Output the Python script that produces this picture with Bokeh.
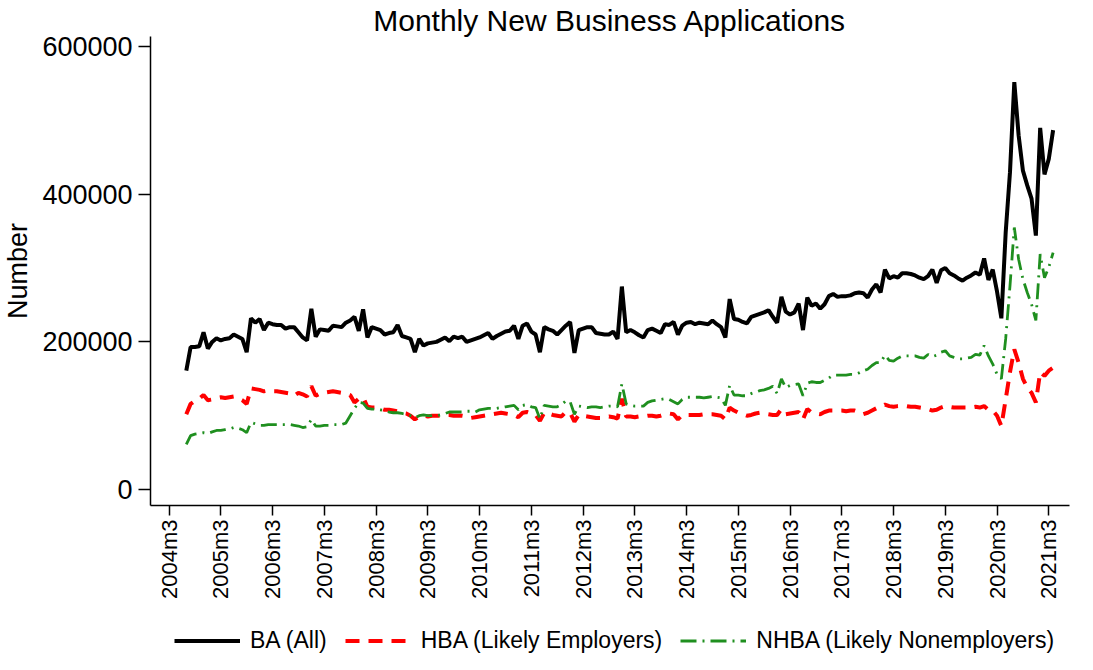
import math
from bokeh.plotting import figure
from bokeh.layouts import column
from bokeh.models import (Range1d, FixedTicker, Legend, LegendItem,
                          ColumnDataSource, BasicTickFormatter)
from bokeh.embed import file_html
from bokeh.resources import INLINE

# ---------------- data (monthly, thousands of applications) ----------------
FIRST_MONTH = "2004m7"

ba_k = [
    161, 193, 193, 194, 213, 191, 200, 205, 202, 204, 205, 210,
    207, 204, 186, 232, 226, 231, 216, 226, 224, 223, 223, 218,
    220, 220, 213, 206, 202, 245, 207, 217, 216, 215, 222, 221,
    220, 226, 229, 234, 215, 244, 206, 220, 218, 216, 210, 212,
    213, 223, 208, 206, 204, 186, 204, 195, 198, 199, 200, 203,
    206, 201, 207, 205, 207, 200, 202, 204, 206, 209, 212, 204,
    208, 211, 214, 215, 222, 204, 222, 225, 214, 210, 186, 220,
    217, 215, 210, 216, 222, 227, 185, 216, 218, 220, 220, 212,
    211, 210, 210, 214, 204, 275, 213, 216, 213, 209, 206, 216,
    218, 215, 212, 224, 223, 227, 210, 222, 226, 227, 224, 226,
    225, 224, 229, 224, 220, 206, 258, 231, 230, 227, 225, 234,
    236, 238, 240, 243, 234, 226, 261, 241, 237, 240, 252, 216,
    260, 249, 252, 245, 251, 262, 265, 261, 262, 262, 263, 266,
    267, 266, 260, 271, 278, 267, 298, 286, 289, 287, 293, 293,
    292, 290, 287, 285, 289, 298, 280, 297, 300, 293, 290, 286,
    283, 287, 290, 294, 291, 313, 284, 298, 268, 232, 348, 430,
    552, 480, 432, 412, 394, 344, 490, 427, 448, 487,
]

hba_k = [
    102, 116, 120, 123, 128, 121, 122, 124, 125, 124, 125, 126,
    124, 121, 116, 137, 136, 135, 133, 134, 133, 133, 132, 131,
    130, 127, 131, 129, 126, 140, 127, 130, 131, 132, 133, 132,
    131, 130, 128, 118, 123, 125, 112, 111, 111, 110, 108, 108,
    107, 106, 104, 103, 100, 95, 99, 100, 99, 100, 100, 100,
    101, 101, 100, 100, 100, 99, 97, 98, 99, 100, 101, 102,
    103, 104, 103, 102, 101, 98, 104, 105, 103, 101, 93, 104,
    103, 101, 100, 99, 105, 104, 92, 101, 100, 99, 98, 97,
    97, 98, 99, 98, 96, 123, 99, 99, 98, 99, 99, 100,
    100, 99, 100, 102, 103, 102, 95, 101, 101, 101, 101, 101,
    102, 102, 102, 101, 100, 95, 111, 107, 104, 102, 100, 101,
    103, 104, 103, 102, 101, 101, 109, 102, 103, 104, 105, 95,
    109, 104, 103, 102, 105, 107, 107, 107, 107, 106, 107, 107,
    105, 102, 104, 107, 110, 112, 115, 113, 112, 113, 113, 113,
    112, 112, 111, 110, 109, 107, 108, 111, 113, 112, 111, 111,
    111, 111, 111, 112, 111, 113, 108, 107, 100, 86, 122, 159,
    190, 172, 150, 138, 131, 118, 159, 154, 161, 165,
]

nhba_k = [
    61, 73, 75, 76, 77, 76, 78, 80, 80, 81, 82, 84,
    83, 81, 77, 91, 89, 87, 87, 88, 88, 88, 88, 88,
    88, 87, 86, 84, 85, 95, 86, 86, 87, 87, 88, 88,
    88, 90, 100, 110, 118, 117, 110, 109, 109, 108, 107, 105,
    104, 104, 103, 102, 100, 97, 100, 101, 100, 100, 100, 101,
    103, 105, 105, 105, 105, 106, 106, 105, 108, 109, 110, 110,
    110, 111, 112, 113, 114, 108, 114, 115, 112, 111, 96, 114,
    113, 112, 112, 115, 120, 119, 102, 113, 112, 111, 112, 112,
    111, 112, 113, 113, 112, 143, 116, 114, 113, 113, 113, 118,
    120, 121, 122, 123, 122, 119, 116, 122, 125, 125, 125, 125,
    124, 125, 126, 125, 124, 114, 141, 128, 128, 127, 127, 130,
    132, 134, 135, 137, 140, 130, 150, 138, 141, 142, 143, 127,
    144, 146, 145, 145, 148, 151, 155, 155, 155, 155, 156, 156,
    158, 161, 163, 168, 172, 172, 182, 175, 174, 178, 181, 181,
    181, 181, 179, 178, 183, 180, 182, 186, 188, 181, 179, 177,
    177, 178, 179, 183, 182, 195, 181, 170, 156, 150, 204, 276,
    355, 312, 285, 267, 251, 229, 319, 287, 301, 321,
]

tick_labels = ["2004m3", "2005m3", "2006m3", "2007m3", "2008m3", "2009m3",
               "2010m3", "2011m3", "2012m3", "2013m3", "2014m3", "2015m3",
               "2016m3", "2017m3", "2018m3", "2019m3", "2020m3", "2021m3"]
y_ticks = [0, 200000, 400000, 600000]

series_names = ["BA (All)", "HBA (Likely Employers)", "NHBA (Likely Nonemployers)"]
title_text = "Monthly New Business Applications"
y_label = "Number"


def month_index(lbl):
    y, m = lbl.split("m")
    fy, fm = FIRST_MONTH.split("m")
    return (int(y) - int(fy)) * 12 + int(m) - int(fm)


n = len(ba_k)
src = ColumnDataSource(dict(
    x=list(range(n)),
    ba=[v * 1000 for v in ba_k],
    hba=[v * 1000 for v in hba_k],
    nhba=[v * 1000 for v in nhba_k],
))
cols = ["ba", "hba", "nhba"]

FONT = "Liberation Sans"
STYLES = [dict(line_color="black", line_width=4),
          dict(line_color="#ff0000", line_width=4, line_dash="14 9"),
          dict(line_color="#1f8f1f", line_width=2.8, line_dash="16 6 2 6")]

# ---------------- main chart ----------------
p = figure(width=1077, height=624, output_backend="svg", toolbar_location=None,
           x_range=Range1d(-8.3, 204.8), y_range=Range1d(-21680, 613800),
           min_border_left=149, min_border_right=8, min_border_top=36,
           min_border_bottom=119, title=title_text)
p.outline_line_color = None
p.grid.visible = False
p.background_fill_color = "white"
p.border_fill_color = "white"

p.title.align = "center"
p.title.text_font = FONT
p.title.text_font_size = "30px"
p.title.text_font_style = "normal"
p.title.text_color = "black"
p.title.standoff = 0

xt = [month_index(l) for l in tick_labels]
p.xaxis.ticker = FixedTicker(ticks=xt)
p.xaxis.major_label_overrides = {t: l for t, l in zip(xt, tick_labels)}
p.xaxis.major_label_orientation = math.pi / 2
p.xaxis.major_label_text_font = FONT
p.xaxis.major_label_text_font_size = "22px"
p.xaxis.major_label_text_color = "black"
p.xaxis.major_label_standoff = 4
p.xaxis.major_tick_in = 0
p.xaxis.major_tick_out = 10
p.xaxis.minor_tick_line_color = None
p.xaxis.axis_line_width = 1.5
p.xaxis.major_tick_line_width = 1.5
p.xaxis.axis_line_color = "black"
p.xaxis.major_tick_line_color = "black"

p.yaxis.ticker = FixedTicker(ticks=y_ticks)
p.yaxis.formatter = BasicTickFormatter(use_scientific=False)
p.yaxis.major_label_text_font = FONT
p.yaxis.major_label_text_font_size = "27px"
p.yaxis.major_label_text_color = "black"
p.yaxis.major_label_standoff = 6
p.yaxis.major_tick_in = 0
p.yaxis.major_tick_out = 12
p.yaxis.minor_tick_line_color = None
p.yaxis.axis_line_width = 1.5
p.yaxis.major_tick_line_width = 1.5
p.yaxis.axis_line_color = "black"
p.yaxis.major_tick_line_color = "black"
p.yaxis.axis_label = y_label
p.yaxis.axis_label_text_font = FONT
p.yaxis.axis_label_text_font_size = "27px"
p.yaxis.axis_label_text_font_style = "normal"
p.yaxis.axis_label_text_color = "black"
p.yaxis.axis_label_standoff = 6

for col, st in zip(cols, STYLES):
    p.line("x", col, source=src, **st)

# ---------------- legend strip below the chart ----------------
# same series drawn again, but its y range lies below the data, so only the
# legend entries show in this strip
pl = figure(width=1077, height=30, output_backend="svg", toolbar_location=None,
            x_range=Range1d(-8.3, 204.8), y_range=Range1d(-3, -2),
            x_axis_location=None, y_axis_location=None,
            min_border_left=0, min_border_right=0, min_border_top=0,
            min_border_bottom=0)
pl.outline_line_color = None
pl.grid.visible = False
pl.background_fill_color = "white"
pl.border_fill_color = "white"

items = []
for name, col, st in zip(series_names, cols, STYLES):
    r = pl.line("x", col, source=src, **st)
    items.append(LegendItem(label=name, renderers=[r]))

legend = Legend(items=items, orientation="horizontal", location=(24, 0),
                padding=0, margin=0, spacing=18,
                glyph_width=66, glyph_height=27, label_height=27,
                label_standoff=10, label_text_font=FONT,
                label_text_font_size="23px", label_text_color="black",
                border_line_color=None, background_fill_alpha=0)
pl.add_layout(legend, "center")

layout = column(p, pl, spacing=0)
open("out.html", "w").write(file_html(layout, INLINE))
